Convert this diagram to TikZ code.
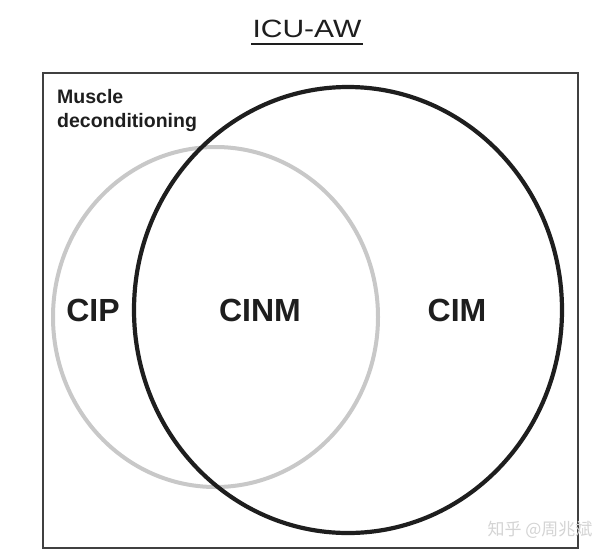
\documentclass[tikz,border=0pt]{standalone}
\usepackage{fontspec}
\setmainfont{Liberation Sans}
\newfontfamily\cjkfont{Noto Sans CJK SC}
\definecolor{circgray}{HTML}{C8C8C8}
\definecolor{ink}{HTML}{1E1E1E}
\definecolor{wmgray}{HTML}{D4D4D4}
\tikzset{
  setlabel/.style={font=\fontsize{32}{36}\selectfont\bfseries, text=ink, inner sep=0pt},
  boxlabel/.style={font=\fontsize{19.5}{24}\selectfont\bfseries, text=ink, inner sep=0pt, align=left},
  titlelabel/.style={font=\fontsize{25}{30}\selectfont, text=ink, inner sep=0pt},
  frame/.style={draw=ink!85, line width=1.3pt},
  greyring/.style={draw=circgray, line width=4pt},
  blackring/.style={draw=ink, line width=4.2pt},
}
\begin{document}
\begin{tikzpicture}[x=1pt,y=-1pt]
\useasboundingbox (0,0) rectangle (615,558);
\fill[white] (0,0) rectangle (615,558);
% frame
\draw[frame] (43,73) rectangle (578,548);
% title
\node[titlelabel, anchor=base] (title) at (307,37) {\scalebox{1.2}[1]{ICU-AW}};
\draw[ink, line width=1.5pt] (251,44) -- (363,44);
% circles
\draw[greyring] (215.5,317) ellipse [x radius=162.5pt, y radius=170pt];
\draw[blackring] (348,310) ellipse [x radius=214pt, y radius=223pt];
% labels
\node[boxlabel, anchor=base west] (muscle) at (57,103) {Muscle};
\node[boxlabel, anchor=base west] (decond) at (57,127) {deconditioning};
\node[setlabel] (cip) at (93,310) {CIP};
\node[setlabel] (cinm) at (260,310) {CINM};
\node[setlabel] (cim) at (457,310) {CIM};
% watermark
\node[font=\cjkfont\fontsize{17}{20}\selectfont, text=wmgray, inner sep=0pt] (wm) at (540,530) {知乎 @周兆斌};
\end{tikzpicture}
\end{document}
